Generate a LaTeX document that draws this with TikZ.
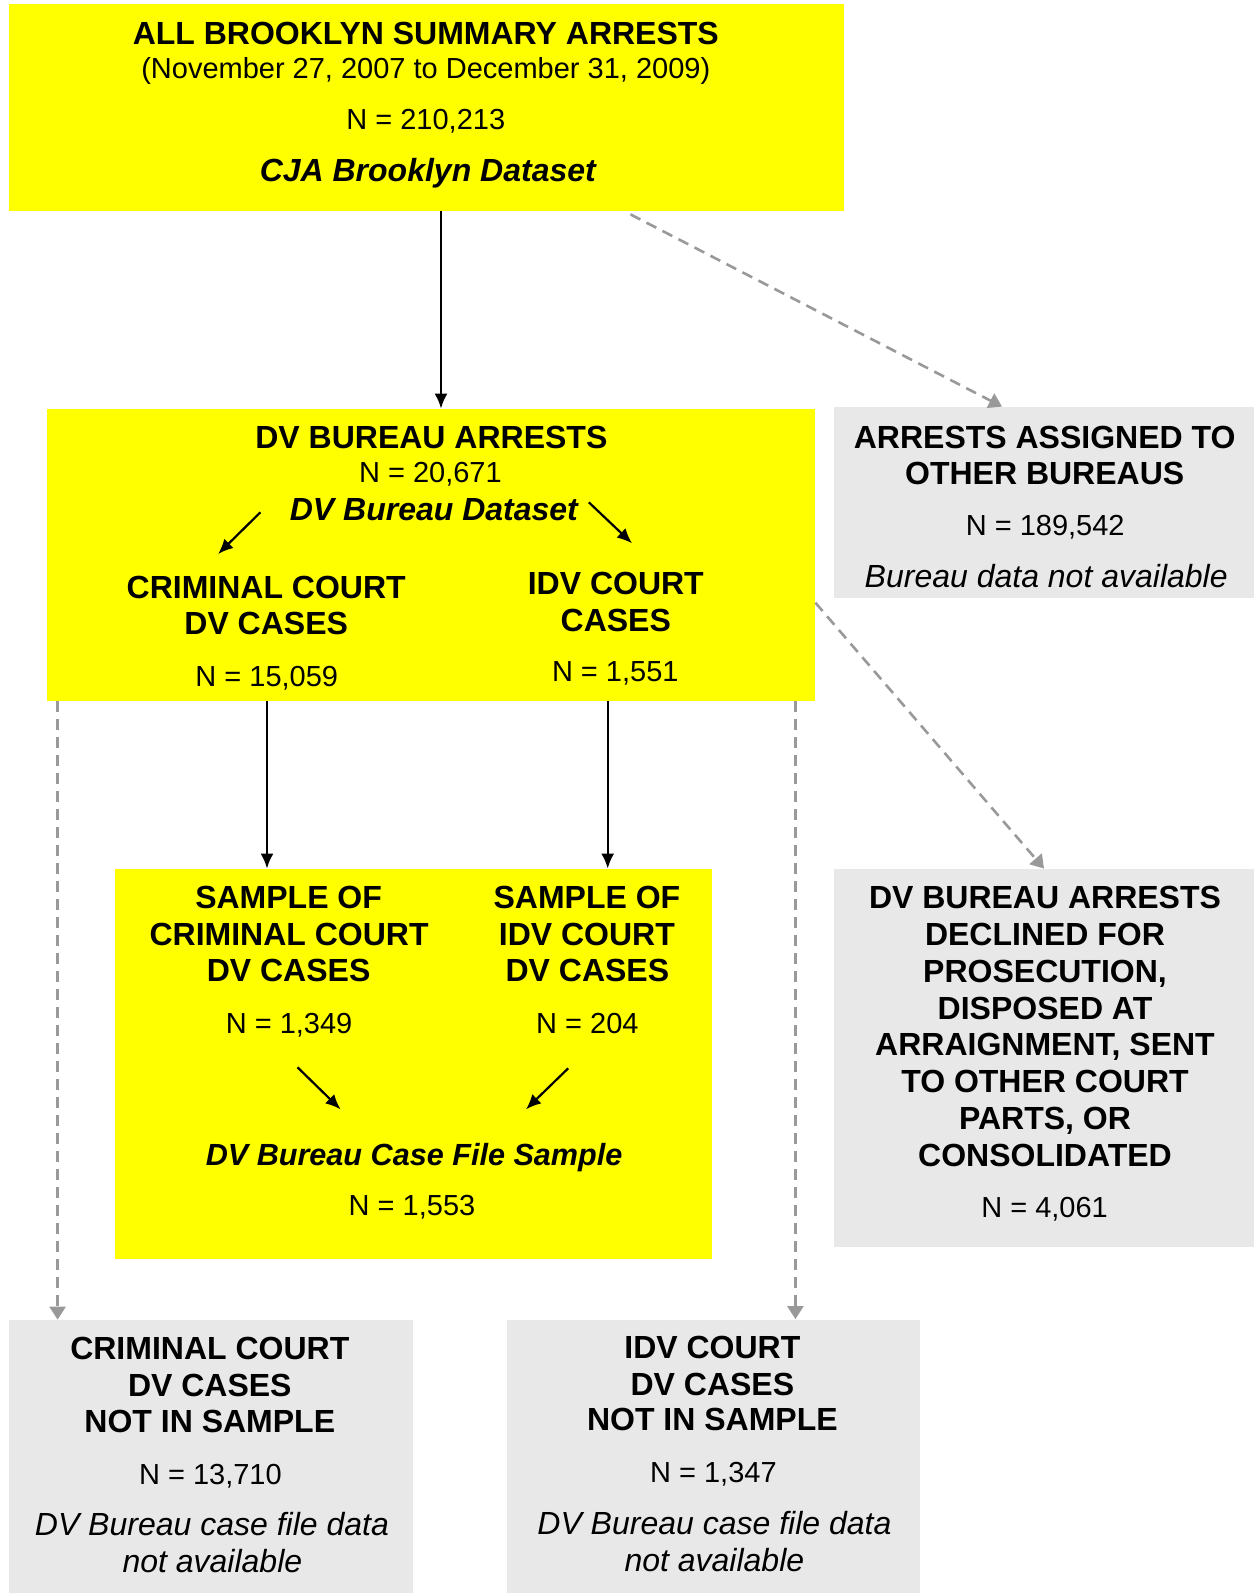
\documentclass[tikz,border=0pt]{standalone}
\usepackage{fontspec}
\setmainfont{Liberation Sans}
\usetikzlibrary{arrows.meta,positioning}
\definecolor{boxyellow}{RGB}{255,255,0}
\definecolor{boxgray}{RGB}{232,232,232}
\definecolor{dashgray}{RGB}{153,153,153}

\begin{document}
\begin{tikzpicture}[x=0.5pt,y=-0.5pt,on grid,
    ybox/.style={fill=boxyellow,inner sep=0pt},
    gbox/.style={fill=boxgray,inner sep=0pt},
    head/.style={font=\fontsize{16}{19}\selectfont\bfseries,inner sep=0pt,anchor=base},
    num/.style={font=\fontsize{14.5}{17}\selectfont,inner sep=0pt,anchor=base},
    note/.style={font=\fontsize{16}{19}\selectfont\itshape,inner sep=0pt,anchor=base},
    bnote/.style={font=\fontsize{16}{19}\selectfont\bfseries\itshape,inner sep=0pt,anchor=base},
    flow/.style={-{Latex[length=7.5pt,width=6.5pt]},line width=1.1pt},
    skipped/.style={-{Triangle[length=6.5pt,width=8pt]},draw=dashgray,line width=1.3pt,dash pattern=on 5.5pt off 3.5pt}]

  \useasboundingbox (0,0) rectangle (1254,1593);

  \node[ybox,minimum width=417.5pt,minimum height=103.5pt] (top)      at (426.5,107.5) {};
  \node[ybox,minimum width=384pt,minimum height=146pt]     (dvb)      [below right=223.75pt and 2.25pt of top] {};
  \node[gbox,minimum width=210pt,minimum height=95.5pt]    (other)    [above right=26.25pt and 306.5pt of dvb] {};
  \node[ybox,minimum width=298.5pt,minimum height=195pt]   (sample)   [below left=254.5pt and 8.75pt of dvb] {};
  \node[gbox,minimum width=210pt,minimum height=189pt]     (declined) [below=277.75pt of other] {};
  \node[gbox,minimum width=202pt,minimum height=136.5pt]   (crimnot)  [below left=196.25pt and 101.25pt of sample] {};
  \node[gbox,minimum width=206.5pt,minimum height=137pt]   (idvnot)   [right=251.25pt of crimnot] {};

  % all summary arrests
  \node[head]  (t1) at (425.8,44.7)  {ALL BROOKLYN SUMMARY ARRESTS};
  \node[num]   (t2) at (425.8,78.2)  {(November 27, 2007 to December 31, 2009)};
  \node[num]   (t3) at (425.8,129.1) {N = 210,213};
  \node[bnote] (t4) at (427.8,181.9) {CJA Brooklyn Dataset};

  % dv bureau
  \node[head]  (d1) at (431.4,448.2) {DV BUREAU ARRESTS};
  \node[num]   (d2) at (430.4,482.7) {N = 20,671};
  \node[bnote] (d3) at (433.9,520.3) {DV Bureau Dataset};
  \node[head]  (d4) at (266.2,598.5) {CRIMINAL COURT};
  \node[head]  (d5) at (266.2,634.1) {DV CASES};
  \node[num]   (d6) at (266.8,686)   {N = 15,059};
  \node[head]  (d7) at (615.8,594.5) {IDV COURT};
  \node[head]  (d8) at (615.8,631.1) {CASES};
  \node[num]   (d9) at (615.3,681.9) {N = 1,551};

  % other bureaus
  \node[head] (o1) at (1044.7,448.2) {ARRESTS ASSIGNED TO};
  \node[head] (o2) at (1044.7,484.7) {OTHER BUREAUS};
  \node[num]  (o3) at (1045.2,535.5) {N = 189,542};
  \node[note] (o4) at (1046.2,587.4) {Bureau data not available};

  % sample
  \node[head]  (s1)  at (288.6,908.5)  {SAMPLE OF};
  \node[head]  (s2)  at (289.1,945.1)  {CRIMINAL COURT};
  \node[head]  (s3)  at (288.6,981.6)  {DV CASES};
  \node[num]   (s4)  at (289.1,1033.5) {N = 1,349};
  \node[head]  (s5)  at (586.9,908.5)  {SAMPLE OF};
  \node[head]  (s6)  at (586.9,945.1)  {IDV COURT};
  \node[head]  (s7)  at (587.4,981.6)  {DV CASES};
  \node[num]   (s8)  at (587.4,1033.5) {N = 204};
  \node[bnote,font=\fontsize{15.3}{18}\selectfont\bfseries\itshape] (s9) at (414.1,1165.6) {DV Bureau Case File Sample};
  \node[num]   (s10) at (412,1215.4)   {N = 1,553};

  % declined
  \node[head] (c1) at (1045,908.5)  {DV BUREAU ARRESTS};
  \node[head] (c2) at (1045,945.4)  {DECLINED FOR};
  \node[head] (c3) at (1045,982.2)  {PROSECUTION,};
  \node[head] (c4) at (1045,1019.1) {DISPOSED AT};
  \node[head] (c5) at (1045,1055.9) {ARRAIGNMENT, SENT};
  \node[head] (c6) at (1045,1092.8) {TO OTHER COURT};
  \node[head] (c7) at (1045,1129.6) {PARTS, OR};
  \node[head] (c8) at (1045,1166.5) {CONSOLIDATED};
  \node[num]  (c9) at (1044.6,1217.4) {N = 4,061};

  % not in sample
  \node[head] (b1) at (209.8,1359.7) {CRIMINAL COURT};
  \node[head] (b2) at (209.8,1396.3) {DV CASES};
  \node[head] (b3) at (209.8,1432.8) {NOT IN SAMPLE};
  \node[num]  (b4) at (210.4,1484.7) {N = 13,710};
  \node[note] (b5) at (211.9,1535.5) {DV Bureau case file data};
  \node[note] (b6) at (212.4,1572)   {not available};
  \node[head] (r1) at (712.4,1358.7) {IDV COURT};
  \node[head] (r2) at (712.4,1395.2) {DV CASES};
  \node[head] (r3) at (712.4,1430.8) {NOT IN SAMPLE};
  \node[num]  (r4) at (713.4,1482.6) {N = 1,347};
  \node[note] (r5) at (714.4,1534.5) {DV Bureau case file data};
  \node[note] (r6) at (714.4,1571)   {not available};

  \coordinate (dsL) at (260.4,512.3);
  \coordinate (deL) at (218.1,554);
  \coordinate (dsR) at (588.8,502.3);
  \coordinate (deR) at (632,543.3);
  \coordinate (ssL) at (297.5,1067.3);
  \coordinate (seL) at (340.5,1109.3);
  \coordinate (ssR) at (568.2,1068.3);
  \coordinate (seR) at (526,1109.3);

  \draw[flow] ([xshift=7.25pt]top.south) -- ([xshift=7.25pt]top.south |- dvb.north);
  \draw[flow] ([xshift=-82pt]dvb.south) -- ([xshift=-82pt]dvb.south |- sample.north);
  \draw[flow] ([xshift=88.35pt]dvb.south) -- ([xshift=88.35pt]dvb.south |- sample.north);
  \draw[flow] (dsL) -- (deL);
  \draw[flow] (dsR) -- (deR);
  \draw[flow] (ssL) -- (seL);
  \draw[flow] (ssR) -- (seR);

  \draw[skipped] ([xshift=102pt,yshift=-1.5pt]top.south) -- ([xshift=-21pt]other.north);
  \draw[skipped] ([yshift=-23.85pt]dvb.east) -- (declined.north);
  \draw[skipped] ([xshift=5.5pt]dvb.south west) -- ([xshift=5.5pt]dvb.south west |- crimnot.north);
  \draw[skipped] ([xshift=-10pt]dvb.south east) -- ([xshift=-10pt]dvb.south east |- idvnot.north);
\end{tikzpicture}
\end{document}
